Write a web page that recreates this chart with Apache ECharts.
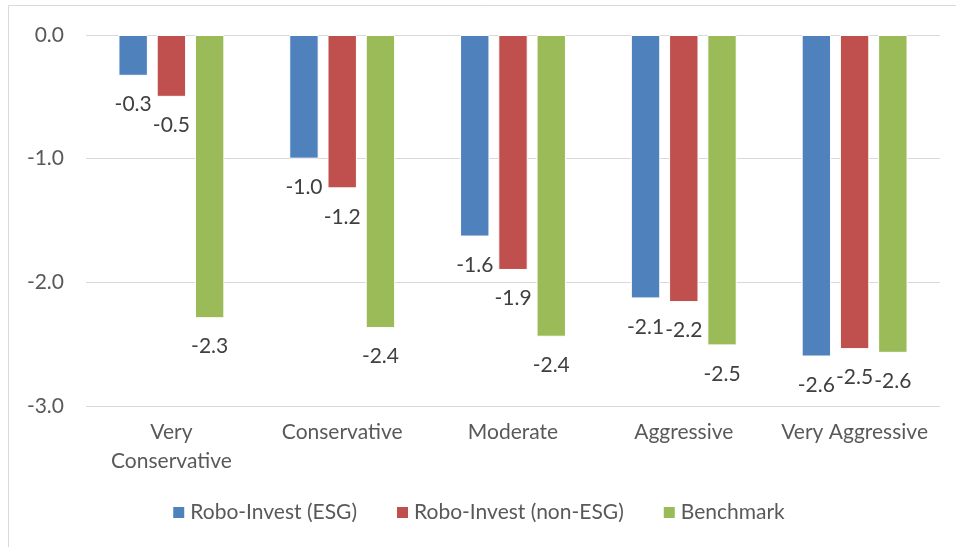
<!DOCTYPE html>
<html>
<head>
<meta charset="utf-8">
<script src="https://cdn.jsdelivr.net/npm/echarts@6/dist/echarts.min.js"></script>
<style>
  html, body { margin: 0; padding: 0; background: #fff; }
  #chart { width: 956px; height: 547px; }
</style>
</head>
<body>
<div id="chart"></div>
<script>
const categories = ['Very\nConservative', 'Conservative', 'Moderate', 'Aggressive', 'Very Aggressive']
const esg = [-0.33, -1.0, -1.63, -2.13, -2.60]
const nonEsg = [-0.50, -1.24, -1.90, -2.16, -2.54]
const benchmark = [-2.29, -2.37, -2.44, -2.51, -2.57]
const yTicks = [-3, -2, -1, 0]

const font = 'Lato, "Noto Sans", sans-serif'
const colors = ['#4F81BD', '#C0504D', '#9BBB59']

const makeSeries = (name, data) => ({
  name: name,
  type: 'bar',
  data: data,
  barGap: '30%',
  barCategoryGap: '38%',
  itemStyle: { borderColor: '#fff', borderWidth: 1 },
  label: {
    show: true,
    position: 'bottom',
    distance: 18,
    color: '#404040',
    fontFamily: font,
    fontSize: 21,
    formatter: p => p.value.toFixed(1)
  }
})

const chart = echarts.init(document.getElementById('chart'))
chart.setOption({
  color: colors,
  animation: false,
  graphic: [{
    type: 'rect',
    shape: { x: 8.5, y: 5.5, width: 960, height: 560 },
    style: { fill: 'none', stroke: '#d9d9d9', lineWidth: 1 },
    silent: true
  }],
  grid: { left: 86, right: 16, top: 35, bottom: 141 },
  legend: {
    bottom: 19,
    left: 'center',
    itemWidth: 13,
    itemHeight: 13,
    itemGap: 38,
    icon: 'rect',
    textStyle: { color: '#595959', fontFamily: font, fontSize: 21 },
    data: ['Robo-Invest (ESG)', 'Robo-Invest (non-ESG)', 'Benchmark']
  },
  xAxis: {
    type: 'category',
    data: categories,
    position: 'bottom',
    axisLine: { show: false, onZero: false },
    axisTick: { show: false },
    axisLabel: {
      color: '#595959',
      fontFamily: font,
      fontSize: 21,
      margin: 12,
      lineHeight: 29,
      interval: 0
    }
  },
  yAxis: {
    type: 'value',
    min: yTicks[0],
    max: yTicks[yTicks.length - 1],
    interval: 1,
    axisLine: { show: false },
    axisTick: { show: false },
    splitLine: { lineStyle: { color: '#d9d9d9', width: 1 } },
    axisLabel: {
      color: '#595959',
      fontFamily: font,
      fontSize: 21,
      margin: 22,
      formatter: v => v.toFixed(1)
    }
  },
  series: [
    makeSeries('Robo-Invest (ESG)', esg),
    makeSeries('Robo-Invest (non-ESG)', nonEsg),
    makeSeries('Benchmark', benchmark)
  ]
})
</script>
</body>
</html>
